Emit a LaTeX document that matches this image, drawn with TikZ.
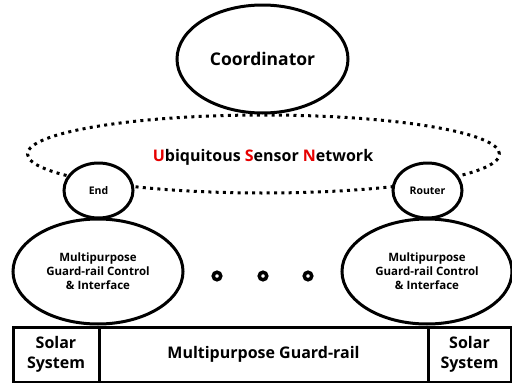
\documentclass[tikz,border=0pt]{standalone}
\usepackage{fontspec}
\setmainfont{Open Sans}
\usetikzlibrary{shapes.geometric}
\definecolor{usnred}{RGB}{230,0,0}
\tikzset{
  x=1pt, y=-1pt,
  oval/.style={ellipse, draw, line width=3pt, fill=white, inner sep=0pt, align=center, font=\bfseries},
  cell/.style={rectangle, draw, line width=3pt, fill=white, inner sep=0pt, align=center, font=\bfseries\fontsize{16}{20}\selectfont},
  dotring/.style={circle, draw, line width=3.5pt, minimum size=7.5pt, inner sep=0pt},
}
\begin{document}
\begin{tikzpicture}
\useasboundingbox (0,0) rectangle (512,383);
% dotted network ellipse
\node[ellipse, draw, line width=3pt, dash pattern=on 3pt off 4.3pt, minimum width=472pt, minimum height=78pt, inner sep=0pt]
  (usn) at (263.5,154) {};
\node[font=\bfseries\fontsize{16}{18}\selectfont] (usnlabel) at (263,157)
  {\textcolor{usnred}{U}biquitous \textcolor{usnred}{S}ensor \textcolor{usnred}{N}etwork};
% coordinator
\node[oval, minimum width=171pt, minimum height=108pt, font=\bfseries\fontsize{17.5}{20}\selectfont] (coord) at (262.5,59) {Coordinator};
% end / router
\node[oval, minimum width=69pt, minimum height=55pt, font=\bfseries\fontsize{10.5}{12}\selectfont] (end) at (98.5,190.5) {End};
\node[oval, minimum width=69pt, minimum height=55pt, font=\bfseries\fontsize{10.5}{12}\selectfont] (router) at (427.5,190.5) {Router};
% control ellipses
\node[oval, minimum width=170pt, minimum height=105pt, font=\bfseries\fontsize{11.5}{14}\selectfont] (ctrlL) at (98,271.5)
  {Multipurpose\\Guard-rail Control\\\& Interface};
\node[oval, minimum width=170pt, minimum height=105pt, font=\bfseries\fontsize{11.5}{14}\selectfont] (ctrlR) at (427,271.5)
  {Multipurpose\\Guard-rail Control\\\& Interface};
% ellipsis rings
\node[dotring] (d1) at (217,276) {};
\node[dotring] (d2) at (263,276) {};
\node[dotring] (d3) at (308,276) {};
% bottom bar
\node[cell, minimum width=86pt, minimum height=55pt] (solarL) at (56,354.5) {Solar\\System};
\node[cell, minimum width=329pt, minimum height=55pt] (rail) at (263.5,354.5) {Multipurpose Guard-rail};
\node[cell, minimum width=83pt, minimum height=55pt] (solarR) at (469.5,354.5) {Solar\\System};
\end{tikzpicture}
\end{document}
